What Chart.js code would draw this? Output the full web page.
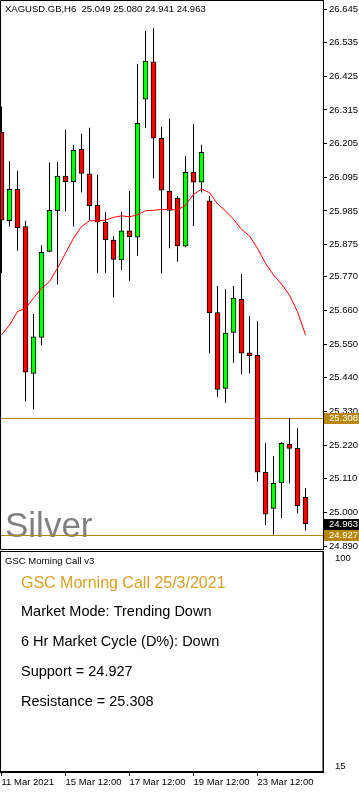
<!DOCTYPE html>
<html>
<head>
<meta charset="utf-8">
<script src="https://cdn.jsdelivr.net/npm/chart.js@4.4.1/dist/chart.umd.min.js"></script>
<style>
body { margin: 0; background: #fff; }
#wrap { position: relative; width: 359px; height: 792px; overflow: hidden; }
canvas { position: absolute; left: 0; }
</style>
</head>
<body>
<div id="wrap">
<canvas id="priceChart" width="359" height="550" style="top:0"></canvas>
<canvas id="panelChart" width="359" height="241" style="top:551px"></canvas>
</div>
<script>
// XAGUSD H6 candles, 11 Mar - 25 Mar 2021
var opens  = [26.243, 25.953, 26.056, 25.934, 25.454, 25.572, 25.853, 25.986, 26.099, 26.081,
              26.186, 26.106, 26.003, 25.948, 25.890, 25.825, 25.920, 25.899, 26.350, 26.472,
              26.222, 26.050, 26.026, 25.870, 26.112, 26.079, 26.018, 25.653, 25.405, 25.588,
              25.696, 25.521, 25.513, 25.131, 25.013, 25.096, 25.223, 25.209, 25.049];
var highs  = [26.326, 26.148, 26.116, 25.953, 25.648, 25.873, 26.143, 26.145, 26.250, 26.201,
              26.237, 26.257, 26.103, 25.982, 25.902, 25.982, 26.050, 26.465, 26.573, 26.582,
              26.260, 26.288, 26.035, 26.165, 26.269, 26.201, 26.034, 25.740, 25.730, 25.740,
              25.779, 25.642, 25.625, 25.226, 25.184, 25.229, 25.308, 25.275, 25.080];
var lows   = [25.782, 25.934, 25.855, 25.362, 25.335, 25.545, 25.850, 25.745, 25.983, 25.934,
              26.045, 25.955, 25.783, 25.783, 25.702, 25.792, 25.757, 25.839, 26.257, 26.092,
              25.781, 25.863, 25.819, 25.866, 25.936, 26.045, 25.520, 25.378, 25.358, 25.489,
              25.451, 25.454, 25.100, 24.959, 24.927, 24.982, 25.094, 24.997, 24.941];
var closes = [25.955, 26.056, 25.930, 25.458, 25.574, 25.850, 25.987, 26.099, 26.081, 26.183,
              26.108, 26.002, 25.948, 25.890, 25.827, 25.920, 25.901, 26.271, 26.475, 26.223,
              26.053, 25.987, 25.871, 26.111, 26.079, 26.177, 25.653, 25.402, 25.586, 25.700,
              25.520, 25.512, 25.131, 24.994, 25.095, 25.226, 25.209, 25.022, 24.963];
var maLine = [25.580, 25.612, 25.656, 25.667, 25.700, 25.732, 25.754, 25.798, 25.847, 25.896,
              25.934, 25.953, 25.953, 25.955, 25.964, 25.969, 25.966, 25.972, 25.986, 25.987,
              25.990, 25.990, 25.988, 26.004, 26.039, 26.056, 26.045, 26.008, 25.985, 25.958,
              25.925, 25.903, 25.863, 25.814, 25.776, 25.746, 25.710, 25.656, 25.580];

var support = 24.927;
var resistance = 25.308;
var lastPrice = 24.963;

var yTicks = [26.645, 26.535, 26.425, 26.315, 26.205, 26.095, 25.985, 25.875, 25.770, 25.660,
              25.550, 25.440, 25.330, 25.220, 25.110, 25.000, 24.890];
var xTickIdx = [0, 8, 16, 24, 32];
var xLabels = ['11 Mar 2021', '15 Mar 12:00', '17 Mar 12:00', '19 Mar 12:00', '23 Mar 12:00'];
var panelTicks = [100, 15];

var chartTitle = 'XAGUSD.GB,H6  25.049 25.080 24.941 24.963';
var panelLines = ['Market Mode: Trending Down', '6 Hr Market Cycle (D%): Down',
                  'Support = 24.927', 'Resistance = 25.308'];

// 8 px per candle, first candle centre at x = 1.5
var xMin = -0.1875, xMax = xMin + 323 / 8;
var yMax = 26.645 + 9 / 306, yMin = yMax - 550 / 306;

var gold = '#b8860b';
Chart.defaults.font.family = '"Liberation Sans", Arial, sans-serif';
Chart.defaults.font.size = 9.5;
Chart.defaults.color = '#000';

var wicks = opens.map(function (o, i) { return { x: i, y: [lows[i], highs[i]] }; });
var bodies = opens.map(function (o, i) { return { x: i, y: [o, closes[i]] }; });
var bodyColors = opens.map(function (o, i) { return closes[i] >= o ? '#00ff00' : '#ff0000'; });
var maData = maLine.map(function (v, i) { return { x: i, y: v }; });

function noPad(s) { s.paddingTop = 0; s.paddingBottom = 0; s.paddingLeft = 0; s.paddingRight = 0; }

var priceDecor = {
  id: 'priceDecor',
  beforeDatasetsDraw: function (chart) {
    var ctx = chart.ctx, a = chart.chartArea, ys = chart.scales.y;
    ctx.save();
    ctx.fillStyle = '#808080';
    ctx.font = '35px "Liberation Sans", Arial, sans-serif';
    ctx.textBaseline = 'alphabetic';
    ctx.fillText('Silver', 5, 537);
    ctx.strokeStyle = gold;
    ctx.lineWidth = 1;
    [support, resistance].forEach(function (v) {
      var py = Math.round(ys.getPixelForValue(v)) + 0.5;
      ctx.beginPath(); ctx.moveTo(a.left, py); ctx.lineTo(a.right, py); ctx.stroke();
    });
    ctx.restore();
  },
  afterDraw: function (chart) {
    var ctx = chart.ctx, a = chart.chartArea, ys = chart.scales.y;
    ctx.save();
    ctx.strokeStyle = '#000';
    ctx.lineWidth = 1;
    ctx.beginPath();
    ctx.moveTo(a.right, 0.5); ctx.lineTo(0.5, 0.5); ctx.lineTo(0.5, a.bottom - 0.5); ctx.lineTo(a.right, a.bottom - 0.5);
    ctx.stroke();
    ctx.fillStyle = '#000';
    ctx.font = '9.5px "Liberation Sans", Arial, sans-serif';
    ctx.textBaseline = 'alphabetic';
    ctx.fillText(chartTitle, 5, 12);
    // price tags on the axis
    [[lastPrice, '#000'], [support, gold], [resistance, gold]].forEach(function (t) {
      var py = Math.round(ys.getPixelForValue(t[0]));
      ctx.fillStyle = t[1];
      ctx.fillRect(a.right + 1, py - 5, 36, 11);
      ctx.fillStyle = '#fff';
      ctx.textBaseline = 'middle';
      ctx.fillText(t[0].toFixed(3), 329, py + 0.5);
    });
    ctx.restore();
  }
};

new Chart(document.getElementById('priceChart').getContext('2d'), {
  type: 'bar',
  data: {
    datasets: [
      { type: 'line', data: maData, borderColor: '#ff0000', borderWidth: 1, pointRadius: 0, tension: 0, order: 0 },
      { data: bodies, backgroundColor: bodyColors, borderColor: '#000', borderWidth: 1, borderSkipped: false,
        barThickness: 5, grouped: false, order: 1 },
      { data: wicks, backgroundColor: '#000', borderWidth: 0, barThickness: 1, inflateAmount: 0, grouped: false, order: 2 }
    ]
  },
  options: {
    responsive: false,
    animation: false,
    layout: { padding: 0 },
    plugins: { legend: { display: false }, tooltip: { enabled: false } },
    scales: {
      x: { type: 'linear', min: xMin, max: xMax, offset: false, display: false },
      y: {
        position: 'right', min: yMin, max: yMax,
        afterBuildTicks: function (s) { s.ticks = yTicks.map(function (v) { return { value: v }; }); },
        afterFit: function (s) { s.width = 36; noPad(s); },
        ticks: { autoSkip: false, padding: 2, callback: function (v) { return v.toFixed(3); } },
        grid: { drawOnChartArea: false, tickLength: 4, color: '#000' },
        border: { color: '#000' }
      }
    }
  },
  plugins: [priceDecor]
});

var panelDecor = {
  id: 'panelDecor',
  afterDraw: function (chart) {
    var ctx = chart.ctx, a = chart.chartArea;
    ctx.save();
    ctx.strokeStyle = '#000';
    ctx.lineWidth = 1;
    ctx.strokeRect(0.5, 0.5, a.right - 0.5, a.bottom - 1);
    ctx.textBaseline = 'alphabetic';
    ctx.fillStyle = '#000';
    ctx.font = '9.5px "Liberation Sans", Arial, sans-serif';
    ctx.fillText('GSC Morning Call v3', 5, 13);
    ctx.fillStyle = '#d9a02a';
    ctx.font = '16px "Liberation Sans", Arial, sans-serif';
    ctx.fillText('GSC Morning Call 25/3/2021', 21, 36.5);
    ctx.fillStyle = '#000';
    ctx.font = '14.5px "Liberation Sans", Arial, sans-serif';
    panelLines.forEach(function (t, i) { ctx.fillText(t, 21, 65 + i * 30); });
    ctx.restore();
  }
};

new Chart(document.getElementById('panelChart').getContext('2d'), {
  type: 'line',
  data: { datasets: [] },
  options: {
    responsive: false,
    animation: false,
    layout: { padding: 0 },
    plugins: { legend: { display: false }, tooltip: { enabled: false } },
    scales: {
      x: {
        type: 'linear', min: xMin, max: xMax, offset: false,
        afterBuildTicks: function (s) { s.ticks = xTickIdx.map(function (v) { return { value: v }; }); },
        afterFit: function (s) { s.height = 20; noPad(s); },
        ticks: { autoSkip: false, maxRotation: 0, align: 'start', padding: 1,
                 callback: function (v) { return xLabels[xTickIdx.indexOf(v)]; } },
        grid: { drawOnChartArea: false, tickLength: 4, color: '#000' },
        border: { color: '#000' }
      },
      y: {
        position: 'right', min: 12.84, max: 102.98,
        afterBuildTicks: function (s) { s.ticks = panelTicks.map(function (v) { return { value: v }; }); },
        afterFit: function (s) { s.width = 36; noPad(s); },
        ticks: { autoSkip: false, padding: 4 },
        grid: { display: false },
        border: { color: '#000' }
      }
    }
  },
  plugins: [panelDecor]
});
</script>
</body>
</html>
